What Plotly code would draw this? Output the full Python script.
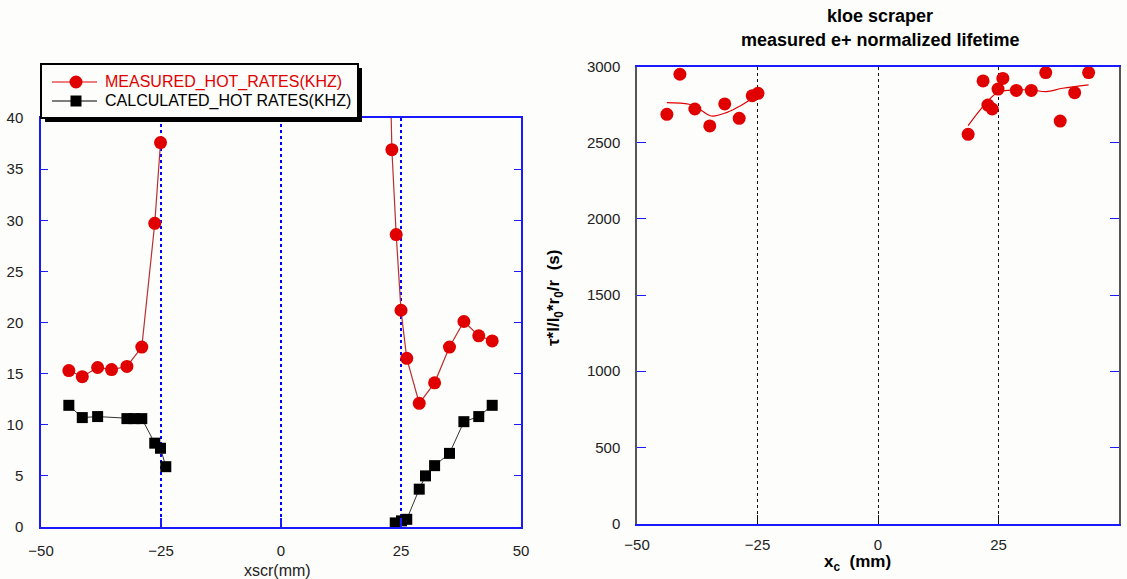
import plotly.graph_objects as go

W, H = 1127, 579

# ---- left panel: hot rates vs scraper position ----
meas_x = [-44.2, -41.4, -38.2, -35.3, -32.1, -29.0, -26.3, -25.1,
          22.6, 23.1, 24.0, 25.0, 26.2, 28.8, 32.0, 35.1, 38.1, 41.2, 44.0]
meas_y = [15.3, 14.7, 15.6, 15.4, 15.7, 17.6, 29.7, 37.6,
          48.0, 36.9, 28.6, 21.2, 16.5, 12.1, 14.1, 17.6, 20.1, 18.7, 18.2]
# the two scraper sides are separate curves
meas_split = 8

calc_x = [-44.2, -41.4, -38.2, -32.1, -30.6, -29.0, -26.3, -25.1, -24.0,
          23.8, 25.1, 26.2, 28.8, 30.1, 32.0, 35.1, 38.1, 41.2, 44.0]
calc_y = [11.9, 10.7, 10.8, 10.6, 10.6, 10.6, 8.2, 7.7, 5.9,
          0.4, 0.6, 0.75, 3.7, 5.0, 6.0, 7.2, 10.3, 10.8, 11.9]
calc_split = 9

left_ticks_y = [0, 5, 10, 15, 20, 25, 30, 35, 40]
x_ticks = [-50, -25, 0, 25, 50]

legend_names = ["MEASURED_HOT_RATES(KHZ)", "CALCULATED_HOT RATES(KHZ)"]

# ---- right panel: normalized lifetime ----
life_x_neg = [-43.8, -41.1, -38.0, -34.9, -31.8, -28.8, -26.1, -24.9]
life_y_neg = [2686, 2949, 2721, 2610, 2754, 2660, 2808, 2824]
life_x_pos = [18.7, 21.8, 22.8, 23.7, 24.9, 25.9, 28.7, 31.8, 34.8, 37.8, 40.8, 43.7]
life_y_pos = [2555, 2905, 2747, 2721, 2852, 2922, 2843, 2843, 2960, 2642, 2828, 2960]

fit_x_neg = [-43.8, -39.2, -36.8, -34.5, -31.3, -28.5, -26.1, -24.9]
fit_y_neg = [2763, 2752, 2715, 2675, 2699, 2743, 2791, 2815]
fit_x_pos = [18.7, 22.0, 24.9, 28.7, 31.8, 34.9, 38.3, 43.7]
fit_y_pos = [2612, 2745, 2831, 2846, 2846, 2835, 2857, 2879]

right_ticks_y = [0, 500, 1000, 1500, 2000, 2500, 3000]

BLUE = "#1a1aff"
GRID_BLUE = "#0000ff"
RED = "#e00000"
LINE_RED = "#b83030"
GRAY = "#555555"
BG = "#fdfdfb"
FONT = "Liberation Sans, Arial, sans-serif"


def px_x(p):
    return p / W


def px_y(p):
    return 1 - p / H


fig = go.Figure()

# measured rates
for xs, ys in ((meas_x[:meas_split], meas_y[:meas_split]),
               (meas_x[meas_split:], meas_y[meas_split:])):
    fig.add_trace(go.Scatter(
        x=xs, y=ys, mode="lines+markers",
        line=dict(color=LINE_RED, width=1.2),
        marker=dict(symbol="circle", size=13, color=RED),
        xaxis="x", yaxis="y", showlegend=False, cliponaxis=True))

# calculated rates
for xs, ys in ((calc_x[:calc_split], calc_y[:calc_split]),
               (calc_x[calc_split:], calc_y[calc_split:])):
    fig.add_trace(go.Scatter(
        x=xs, y=ys, mode="lines+markers",
        line=dict(color="#333333", width=1),
        marker=dict(symbol="square", size=11, color="black"),
        xaxis="x", yaxis="y", showlegend=False, cliponaxis=False))

# lifetime fits and points
for fx, fy in ((fit_x_neg, fit_y_neg), (fit_x_pos, fit_y_pos)):
    fig.add_trace(go.Scatter(
        x=fx, y=fy, mode="lines", line=dict(color=RED, width=1.2, shape="spline"),
        xaxis="x2", yaxis="y2", showlegend=False))
for lx, ly in ((life_x_neg, life_y_neg), (life_x_pos, life_y_pos)):
    fig.add_trace(go.Scatter(
        x=lx, y=ly, mode="markers",
        marker=dict(symbol="circle", size=13, color=RED),
        xaxis="x2", yaxis="y2", showlegend=False, cliponaxis=False))

tickfont = dict(family=FONT, size=15, color="#222222")

fig.update_layout(
    width=W, height=H,
    margin=dict(l=0, r=0, t=0, b=0),
    paper_bgcolor=BG, plot_bgcolor=BG,
    font=dict(family=FONT, color="#222222"),
    showlegend=False,
    xaxis=dict(
        domain=[px_x(41), px_x(521)], range=[-50, 50],
        tickvals=x_ticks,
        showline=True, mirror=True, linecolor=BLUE, linewidth=1.5,
        ticks="inside", ticklen=9, tickcolor=BLUE, tickwidth=1.5,
        showgrid=True, gridcolor=GRID_BLUE, griddash="dot", gridwidth=1.5,
        zeroline=False, tickfont=tickfont, ticklabelstandoff=9,
        automargin=False, anchor="y"),
    yaxis=dict(
        domain=[px_y(527), px_y(118)], range=[0, 40],
        tickvals=left_ticks_y,
        showline=True, mirror="ticks", linecolor=BLUE, linewidth=1.5,
        ticks="inside", ticklen=7, tickcolor=BLUE,
        showgrid=False, zeroline=False, tickfont=tickfont,
        ticklabelstandoff=13, automargin=False, anchor="x"),
    xaxis2=dict(
        domain=[px_x(637), px_x(1119)], range=[-50, 50],
        tickvals=x_ticks,
        showline=True, mirror=True, linecolor=BLUE, linewidth=1.5,
        ticks="inside", ticklen=9, tickcolor="#111111", tickwidth=1,
        showgrid=True, gridcolor="#111111", griddash="dot",
        gridwidth=1.2, zeroline=False, tickfont=tickfont,
        ticklabelstandoff=7, automargin=False, anchor="y2"),
    yaxis2=dict(
        domain=[px_y(523.5), px_y(66.5)], range=[0, 3000],
        tickvals=right_ticks_y,
        showline=True, mirror="ticks", linecolor=GRAY, linewidth=1.5,
        ticks="inside", ticklen=9, tickcolor=BLUE,
        showgrid=False, zeroline=False, tickfont=tickfont,
        ticklabelstandoff=12, automargin=False, anchor="x2"),
)

# legend box for the left panel, with its drop shadow
shapes = [
    dict(type="rect", x0=45, x1=362, y0=68, y1=122, fillcolor="black",
         line=dict(width=0)),
    dict(type="rect", x0=41, x1=358, y0=64, y1=118, fillcolor=BG,
         line=dict(color="black", width=2)),
    dict(type="line", x0=52, x1=97, y0=82, y1=82, line=dict(color=RED, width=1.2)),
    dict(type="circle", x0=69.5, x1=82.5, y0=75.5, y1=88.5, fillcolor=RED,
         line=dict(width=0)),
    dict(type="line", x0=52, x1=97, y0=101, y1=101, line=dict(color="black", width=1.2)),
    dict(type="rect", x0=70.5, x1=81.5, y0=95.5, y1=106.5, fillcolor="black",
         line=dict(width=0)),
]
for s in shapes:
    s = dict(s)
    s["x0"], s["x1"] = px_x(s["x0"]), px_x(s["x1"])
    s["y0"], s["y1"] = px_y(s["y0"]), px_y(s["y1"])
    fig.add_shape(xref="paper", yref="paper", layer="above", **s)

annots = [
    dict(text=legend_names[0], x=103, y=82, size=16, color=RED, xanchor="left"),
    dict(text=legend_names[1], x=103, y=101, size=16, color="black", xanchor="left"),
    dict(text="xscr(mm)", x=277, y=570, size=16, color="#222222"),
    dict(text="<b>kloe scraper</b>", x=880, y=16, size=18, color="black"),
    dict(text="<b>measured e+ normalized lifetime</b>", x=880, y=40, size=18,
         color="black"),
    dict(text="<b>x<sub>c</sub>  (mm)</b>", x=857, y=563, size=17, color="black"),
    dict(text="<b>τ*I/I<sub>0</sub>*r<sub>0</sub>/r  (s)</b>", x=555, y=298, size=17,
         color="black", textangle=-90),
]
for a in annots:
    a = dict(a)
    size, color = a.pop("size"), a.pop("color")
    xanchor = a.pop("xanchor", "center")
    fig.add_annotation(xref="paper", yref="paper", showarrow=False,
                       x=px_x(a.pop("x")), y=px_y(a.pop("y")),
                       xanchor=xanchor, yanchor="middle",
                       font=dict(family=FONT, color=color, size=size), **a)

fig.write_html("out.html")
